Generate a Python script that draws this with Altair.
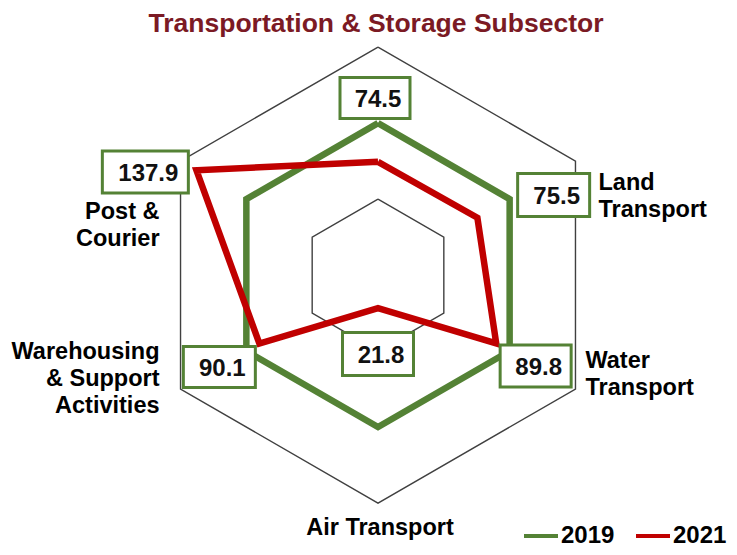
import altair as alt
import pandas as pd

# ---------------- data ----------------
TITLE = "Transportation & Storage Subsector"
CATEGORIES = ["Transportation & Storage", "Land Transport", "Water Transport",
              "Air Transport", "Warehousing & Support Activities", "Post & Courier"]
AXIS_LABELS = ["", "Land\nTransport", "Water\nTransport", "Air Transport",
               "Warehousing\n& Support\nActivities", "Post &\nCourier"]
SERIES = ["2019", "2021"]
V2019 = [100, 100, 100, 100, 100, 100]
V2021 = [74.5, 75.5, 89.8, 21.8, 90.1, 137.9]
GRID_LEVELS = [50, 100, 150]

# ---------------- style / layout ----------------
GREEN = "#548235"
RED = "#C00000"
GRID = "#404040"
TITLE_COLOR = "#7B1A24"
FONT = "Liberation Sans"
W, H = 721, 539
XS = alt.Scale(domain=[-243.4, 230.9], zero=False, nice=False)
YS = alt.Scale(domain=[-178.9, 175.7], zero=False, nice=False)

# value-box layout per category: (dx, dy, width, height) in pixels from 2019 vertex
BOX = [(-3, -25, 70, 41), (44, -4, 72, 43), (26, 15, 71, 42),
       (0, -73, 71, 43), (-27, 16, 72, 41), (-101, -27, 86, 42)]
# axis label layout: (dx, dy, align) from outer grid vertex
LAB = [(0, 0, "center"), (23, 29, "left"), (10, -21, "left"),
       (2, 32, "center"), (-21, -30, "right"), (-21, 58, "right")]

CALC = dict(px="datum.r * sin(datum.i * PI / 3)", py="datum.r * cos(datum.i * PI / 3)")


def xy():
    return dict(x=alt.X("px:Q", scale=XS, axis=None), y=alt.Y("py:Q", scale=YS, axis=None))


# grid hexagons
grid_rows = [{"lvl": lvl, "k": k, "i": k % 6, "r": lvl} for lvl in GRID_LEVELS for k in range(7)]
grid = alt.Chart(pd.DataFrame(grid_rows)).transform_calculate(**CALC).mark_line(
    color=GRID, strokeWidth=1.4, strokeJoin="miter"
).encode(**xy(), detail="lvl:N", order="k:Q")

# series polygons
line_rows = []
for s, vals in zip(SERIES, [V2019, V2021]):
    for k in range(7):
        line_rows.append({"series": s, "k": k, "i": k % 6, "r": vals[k % 6]})
lines = alt.Chart(pd.DataFrame(line_rows)).transform_calculate(**CALC).mark_line(
    strokeWidth=6.5, strokeJoin="miter"
).encode(
    **xy(), order="k:Q",
    color=alt.Color("series:N", scale=alt.Scale(domain=SERIES, range=[GREEN, RED]),
                    legend=alt.Legend(title=None, orient="none", legendX=514, legendY=509,
                                      direction="horizontal", symbolType="stroke",
                                      symbolStrokeWidth=4, symbolSize=1156,
                                      labelFontSize=24, labelFont=FONT,
                                      labelFontWeight="bold", labelColor="black",
                                      labelOffset=1, columnPadding=13, padding=0)),
)

layers = [grid, lines]

# value boxes
for i in range(6):
    dx, dy, bw, bh = BOX[i]
    df = pd.DataFrame([{"i": i, "r": V2019[i], "val": V2021[i], "cat": CATEGORIES[i]}])
    h = bh / bw
    shape = f"M-1,-{h:.4f}L1,-{h:.4f}L1,{h:.4f}L-1,{h:.4f}Z"
    box = alt.Chart(df).transform_calculate(**CALC).mark_point(
        shape=shape, size=bw * bw, filled=True, fill="white", stroke=GREEN,
        strokeWidth=3, opacity=1, xOffset=dx, yOffset=dy
    ).encode(**xy())
    txt = alt.Chart(df).transform_calculate(**CALC).mark_text(
        dx=dx + 3, dy=dy + 8.5, align="center", baseline="alphabetic",
        font=FONT, fontSize=24, fontWeight="bold", color="#111111"
    ).encode(**xy(), text=alt.Text("val:Q", format=".1f"))
    layers += [box, txt]

# category labels
for i in range(6):
    if not AXIS_LABELS[i]:
        continue
    dx, dy, al = LAB[i]
    df = pd.DataFrame([{"i": i, "r": max(GRID_LEVELS), "lab": AXIS_LABELS[i]}])
    lab = alt.Chart(df).transform_calculate(**CALC).mark_text(
        dx=dx, dy=dy, align=al, baseline="alphabetic", lineBreak="\n", lineHeight=27,
        font=FONT, fontSize=23.5, fontWeight="bold", color="black"
    ).encode(**xy(), text="lab:N")
    layers.append(lab)

# title
title = alt.Chart(pd.DataFrame({"t": [TITLE]})).mark_text(
    align="center", baseline="alphabetic", font=FONT, fontSize=26.5,
    fontWeight="bold", color=TITLE_COLOR
).encode(x=alt.value(368), y=alt.value(24), text="t:N")
layers.append(title)

chart = alt.layer(*layers).properties(
    width=W, height=H, autosize=alt.AutoSizeParams(type="none"), padding=0,
    background="white"
).configure_view(stroke=None)

chart.save("out.html", embed_options={"renderer": "svg", "actions": False})
